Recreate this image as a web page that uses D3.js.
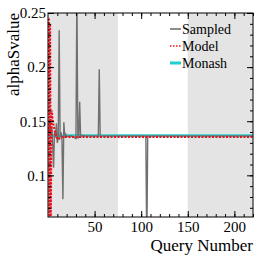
<!DOCTYPE html>
<html>
<head>
<meta charset="utf-8">
<script src="https://cdn.jsdelivr.net/npm/d3@7"></script>
<style>
  body { margin: 0; background: #fff; }
  svg text { font-family: "Liberation Serif", "Times New Roman", serif; fill: #000; }
</style>
</head>
<body>
<div id="chart"></div>
<script>
// ---- data ----
const shadedStart = [0, 150];
const shadedEnd = [75, 220];

const sampledQuery = [1, 2, 3, 4, 5, 6, 7, 8, 9, 10, 11, 12, 13, 14, 15, 16, 17, 18, 19, 20,
  25, 30, 31, 32, 33, 34, 35, 36, 40, 54, 55, 56, 60, 105, 106, 107, 220];
const sampledValue = [0.14, 0.15, 0.138, 0.145, 0.13, 0.107, 0.14, 0.135, 0.148, 0.13, 0.134, 0.234,
  0.135, 0.14, 0.132, 0.078, 0.149, 0.135, 0.138, 0.136,
  0.1365, 0.134, 0.27, 0.134, 0.136, 0.168, 0.135, 0.137, 0.1365, 0.1365, 0.198, 0.1365, 0.1365,
  0.1365, 0.03, 0.1365, 0.1365];

const modelQuery = [1, 1.6, 2.3, 3, 4, 5, 6, 7, 8, 9, 10, 11, 13, 16, 220];
const modelValue = [0.245, 0.06, 0.24, 0.062, 0.16, 0.152, 0.146, 0.142, 0.139, 0.136, 0.134, 0.133, 0.1345, 0.1355, 0.1355];

const monashQuery = [1, 220];
const monashValue = [0.1365, 0.1365];

const legendLabels = ["Sampled", "Model", "Monash"];
const xTicks = [50, 100, 150, 200];
const yTicks = [0.1, 0.15, 0.2, 0.25];

// ---- layout ----
const W = 266, H = 260;
const margin = { top: 13, right: 13, bottom: 43, left: 48 };
const width = W - margin.left - margin.right;
const height = H - margin.top - margin.bottom;

const svg = d3.select("#chart").append("svg")
  .attr("width", W).attr("height", H);

const g = svg.append("g")
  .attr("transform", `translate(${margin.left},${margin.top})`);

const x = d3.scaleLinear().domain([0, 220]).range([0, width]);
const y = d3.scaleLinear().domain([0.0615, 0.25]).range([height, 0]);

g.append("clipPath").attr("id", "clip")
  .append("rect").attr("x", -1).attr("width", width + 1).attr("height", height);

// shaded bands
g.selectAll(".band").data(shadedStart).enter().append("rect")
  .attr("class", "band")
  .attr("x", (d, i) => x(d))
  .attr("width", (d, i) => x(shadedEnd[i]) - x(d))
  .attr("y", 0).attr("height", height)
  .attr("fill", "#e4e4e4");

const plot = g.append("g").attr("clip-path", "url(#clip)");

const line = d3.line().x(d => x(d[0])).y(d => y(d[1]));

plot.append("path")
  .datum(monashQuery.map((q, i) => [q, monashValue[i]]))
  .attr("d", line).attr("fill", "none")
  .attr("stroke", "#1fcfcf").attr("stroke-width", 3);

plot.append("path")
  .datum(sampledQuery.map((q, i) => [q, sampledValue[i]]))
  .attr("d", line).attr("fill", "none")
  .attr("stroke", "#707070").attr("stroke-width", 1.4);

plot.append("path")
  .datum(modelQuery.map((q, i) => [q, modelValue[i]]))
  .attr("d", line).attr("fill", "none")
  .attr("stroke", "#f0101a").attr("stroke-width", 2)
  .attr("stroke-dasharray", "2,1.5");

// ---- axes, ticks inside ----
const xMinor = d3.range(10, 221, 10);
const yMinor = d3.range(0.07, 0.2501, 0.01);

g.append("g").attr("transform", `translate(0,${height})`)
  .call(d3.axisBottom(x).tickValues(xMinor).tickSize(-3).tickFormat(""));
g.append("g").attr("transform", `translate(0,${height})`)
  .call(d3.axisBottom(x).tickValues(xTicks).tickSize(-6).tickPadding(4).tickFormat(d3.format("d")));
g.append("g")
  .call(d3.axisTop(x).tickValues(xMinor).tickSize(-3).tickFormat(""));
g.append("g")
  .call(d3.axisTop(x).tickValues(xTicks).tickSize(-6).tickFormat(""));

g.append("g")
  .call(d3.axisLeft(y).tickValues(yMinor).tickSize(-3).tickFormat(""));
g.append("g")
  .call(d3.axisLeft(y).tickValues(yTicks).tickSize(-6).tickPadding(2).tickFormat(d => d === 0.1 ? "0.1" : d3.format(".2")(d)));
g.append("g").attr("transform", `translate(${width},0)`)
  .call(d3.axisRight(y).tickValues(yMinor).tickSize(-3).tickFormat(""));
g.append("g").attr("transform", `translate(${width},0)`)
  .call(d3.axisRight(y).tickValues(yTicks).tickSize(-6).tickFormat(""));

g.selectAll(".domain").remove();
g.selectAll(".tick line").attr("stroke", "#000").attr("stroke-width", 1);
g.selectAll(".tick text").attr("font-size", 15).attr("font-family", "Liberation Serif");

g.append("rect").attr("width", width).attr("height", height)
  .attr("fill", "none").attr("stroke", "#000").attr("stroke-width", 1);

// axis titles
svg.append("text")
  .attr("transform", `translate(19,${margin.top}) rotate(-90)`)
  .attr("text-anchor", "end")
  .attr("font-size", 17)
  .text("alphaSvalue");

svg.append("text")
  .attr("x", margin.left + width).attr("y", 251)
  .attr("text-anchor", "end")
  .attr("font-size", 17)
  .text("Query Number");

// ---- legend ----
const legend = svg.append("g").attr("transform", "translate(170,29)");
const legendStyle = [
  { stroke: "#707070", w: 1.6, dash: null },
  { stroke: "#f0101a", w: 1.5, dash: "1.5,1.5" },
  { stroke: "#1fcfcf", w: 3, dash: null }
];
legendLabels.forEach((lab, i) => {
  const row = legend.append("g").attr("transform", `translate(0,${i * 17})`);
  row.append("line").attr("x1", 0).attr("x2", 11).attr("y1", 0).attr("y2", 0)
    .attr("stroke", legendStyle[i].stroke).attr("stroke-width", legendStyle[i].w)
    .attr("stroke-dasharray", legendStyle[i].dash);
  row.append("text").attr("x", 12).attr("y", 0).attr("dy", "0.33em")
    .attr("font-size", 14).text(lab);
});
</script>
</body>
</html>
